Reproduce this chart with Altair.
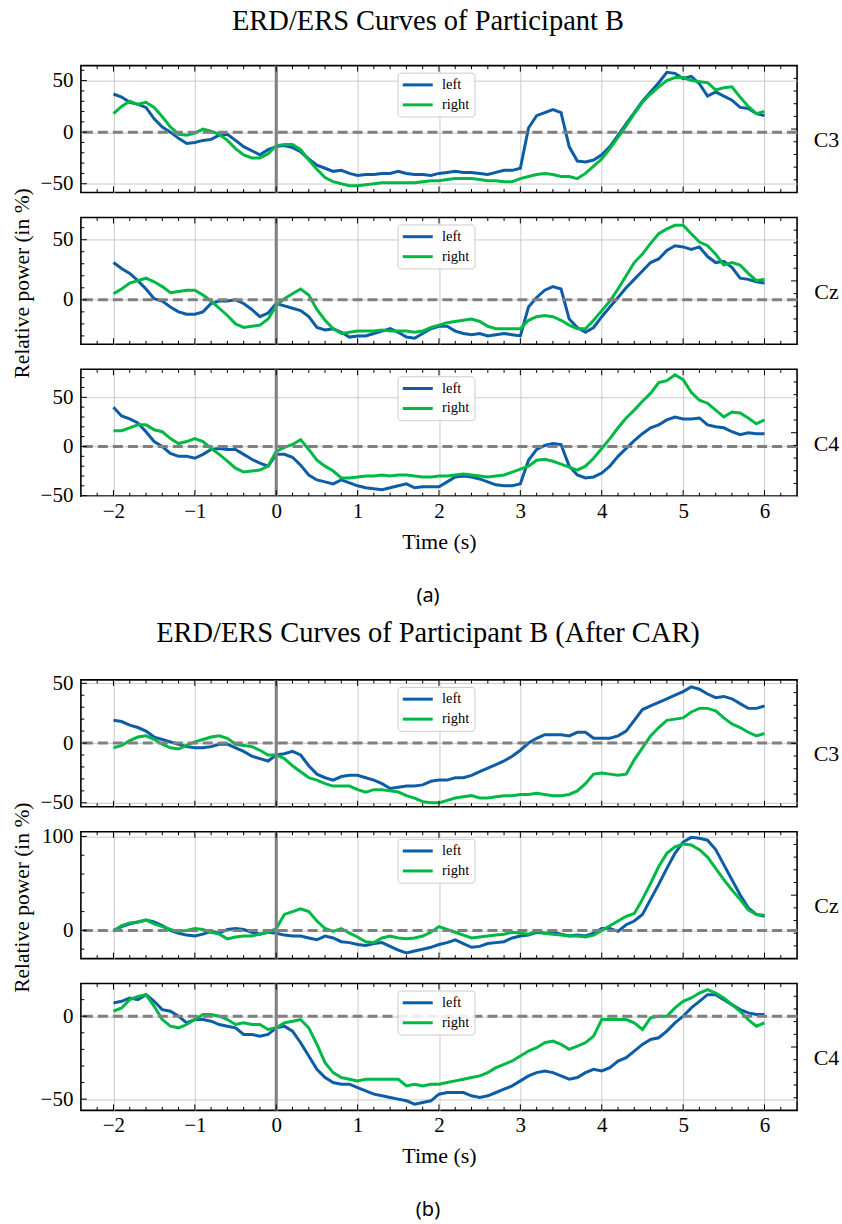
import altair as alt
import pandas as pd

SERIF = "Liberation Serif"
SANS = "Noto Sans"
BLUE = "#0C5DA5"
GREEN = "#00B945"
GRAY = "#808080"
W, H = 717, 127

# sample grid (seconds)
time_s = [round(-2 + 0.1 * i, 1) for i in range(81)]
x_major = [-2, -1, 0, 1, 2, 3, 4, 5, 6]
x_minor = [round(-2.2 + 0.2 * i, 1) for i in range(43)]
x_minor = [v for v in x_minor if abs(v - round(v)) > 1e-6]

# ---------------- (a) raw ----------------
a_C3_left = [37, 34, 29, 27, 24, 13, 5, 0, -6, -11,
             -10, -8, -7, -3, -2, -8, -14, -18, -22, -17,
             -14, -13, -15, -19, -26, -32, -35, -38, -37, -40,
             -42, -41, -41, -40, -40, -38, -40, -41, -41, -42,
             -40, -39, -38, -39, -39, -40, -41, -39, -37, -37,
             -35, 4, 16, 19, 22, 19, -14, -28, -29, -27,
             -22, -14, -3, 8, 19, 30, 39, 48, 58, 57,
             52, 54, 47, 35, 39, 35, 31, 24, 23, 18,
             16]
a_C3_right = [18, 25, 30, 27, 29, 24, 15, 5, -2, -3,
              -1, 3, 1, -2, -8, -16, -22, -25, -25, -21,
              -13, -12, -12, -17, -27, -36, -44, -48, -50, -52,
              -52, -51, -50, -49, -49, -49, -49, -49, -48, -47,
              -47, -46, -45, -45, -45, -46, -47, -47, -48, -48,
              -45, -43, -41, -40, -41, -43, -43, -45, -40, -33,
              -26, -16, -5, 6, 18, 29, 37, 44, 50, 53,
              53, 50, 49, 48, 41, 43, 44, 34, 25, 18,
              20]
a_Cz_left = [31, 26, 22, 16, 9, 1, -1, -6, -10, -12,
             -12, -10, -3, -1, -1, 0, -3, -8, -14, -11,
             -3, -5, -7, -9, -14, -23, -25, -24, -27, -31,
             -30, -30, -28, -26, -24, -27, -31, -32, -28, -24,
             -22, -22, -26, -28, -29, -28, -30, -29, -28, -29,
             -30, -6, 2, 8, 11, 9, -16, -23, -27, -23,
             -14, -6, 2, 10, 17, 24, 31, 34, 41, 45,
             44, 42, 44, 36, 31, 32, 27, 18, 17, 15,
             14]
a_Cz_right = [5, 9, 14, 16, 18, 15, 11, 6, 7, 8,
              8, 4, -1, -7, -13, -20, -23, -22, -21, -16,
              -5, 1, 5, 9, 4, -8, -17, -24, -28, -27,
              -26, -26, -26, -25, -26, -26, -26, -27, -26, -23,
              -21, -19, -18, -17, -16, -18, -22, -24, -24, -24,
              -24, -17, -14, -13, -14, -17, -21, -24, -24, -17,
              -9, -1, 9, 20, 31, 38, 47, 55, 59, 62,
              62, 55, 48, 45, 38, 29, 31, 29, 22, 16,
              17]
a_C4_left = [40, 31, 28, 24, 15, 5, 0, -7, -10, -10,
             -12, -8, -3, -2, -3, -3, -8, -13, -17, -20,
             -8, -8, -11, -19, -29, -34, -36, -38, -34, -37,
             -40, -42, -43, -44, -42, -40, -38, -42, -41, -41,
             -41, -36, -31, -30, -31, -33, -36, -39, -40, -40,
             -38, -14, -3, 1, 3, 2, -20, -29, -32, -31,
             -27, -20, -10, -2, 6, 13, 19, 22, 27, 30,
             28, 28, 29, 22, 20, 19, 15, 12, 14, 13,
             13]
a_C4_right = [16, 16, 19, 22, 22, 17, 15, 8, 3, 5,
              8, 5, -2, -8, -15, -22, -26, -25, -24, -20,
              -5, -1, 2, 7, -3, -14, -20, -25, -32, -32,
              -31, -30, -30, -29, -30, -29, -29, -30, -31, -31,
              -30, -30, -29, -28, -29, -30, -31, -30, -29, -26,
              -23, -20, -14, -13, -15, -18, -21, -24, -20, -12,
              -2, 8, 19, 29, 37, 46, 54, 65, 67, 73,
              68, 55, 47, 44, 37, 30, 35, 34, 29, 23,
              27]

# ---------------- (b) after CAR ----------------
b_C3_left = [19, 18, 15, 13, 10, 5, 3, 1, -1, -3,
             -4, -4, -3, -1, -1, -4, -7, -11, -13, -15,
             -10, -9, -7, -10, -19, -26, -29, -31, -28, -27,
             -27, -29, -31, -34, -38, -37, -36, -36, -35, -32,
             -31, -31, -29, -29, -27, -24, -21, -18, -15, -11,
             -6, 0, 4, 7, 7, 7, 6, 9, 9, 4,
             4, 4, 6, 10, 19, 28, 31, 34, 37, 40,
             43, 47, 45, 41, 38, 39, 37, 33, 29, 29,
             31]
b_C3_right = [-4, -2, 2, 5, 6, 3, -1, -4, -5, -2,
              1, 3, 5, 6, 4, -1, -2, -3, -6, -10,
              -10, -13, -19, -24, -29, -31, -34, -36, -36, -36,
              -39, -41, -39, -39, -40, -41, -44, -46, -49, -50,
              -50, -48, -46, -45, -44, -46, -46, -45, -44, -44,
              -43, -43, -42, -43, -44, -44, -43, -40, -34, -26,
              -25, -26, -27, -26, -14, -4, 6, 13, 19, 20,
              21, 26, 29, 29, 27, 21, 16, 13, 9, 6,
              8]
b_Cz_left = [0, 4, 7, 9, 11, 9, 5, 0, -3, -5,
             -6, -4, -1, -3, 1, 2, 1, -2, -4, -2,
             -3, -5, -6, -6, -8, -10, -6, -8, -12, -13,
             -15, -16, -14, -13, -17, -21, -24, -22, -20, -18,
             -15, -13, -10, -14, -18, -17, -14, -13, -12, -8,
             -6, -5, -2, -3, -2, -4, -6, -5, -6, -3,
             2, 2, -1, 6, 10, 17, 33, 49, 66, 82,
             94, 99, 98, 96, 86, 70, 54, 38, 24, 17,
             15]
b_Cz_right = [-1, 5, 8, 9, 11, 7, 4, 1, -1, 0,
              2, 1, -2, -4, -9, -7, -6, -6, -4, -2,
              2, 17, 20, 23, 20, 10, 2, -1, 2, -3,
              -7, -12, -13, -8, -6, -8, -9, -8, -6, -2,
              4, 1, -2, -5, -8, -7, -6, -5, -4, -2,
              -3, -4, -1, -3, -4, -5, -6, -6, -7, -5,
              0, 5, 10, 15, 18, 33, 50, 68, 82, 89,
              92, 91, 86, 78, 66, 54, 43, 33, 22, 17,
              16]
b_C4_left = [8, 9, 11, 10, 13, 9, 4, 3, 0, -4,
             -2, -2, -3, -5, -6, -7, -11, -11, -12, -11,
             -7, -6, -9, -16, -24, -32, -37, -40, -41, -41,
             -43, -45, -47, -48, -49, -50, -51, -53, -52, -51,
             -47, -46, -46, -46, -48, -49, -48, -46, -44, -42,
             -39, -36, -34, -33, -34, -36, -38, -37, -34, -32,
             -33, -31, -27, -25, -21, -17, -14, -13, -9, -4,
             0, 5, 9, 13, 13, 10, 7, 4, 2, 1,
             1]
b_C4_right = [3, 5, 10, 12, 13, 6, -2, -6, -7, -5,
              -2, 1, 1, 0, -2, -5, -4, -5, -5, -8,
              -7, -4, -3, -2, -7, -17, -28, -34, -37, -38,
              -39, -38, -38, -38, -38, -38, -42, -41, -42, -41,
              -41, -40, -39, -38, -37, -36, -34, -31, -29, -27,
              -24, -21, -19, -16, -15, -17, -20, -18, -16, -12,
              -2, -2, -2, -2, -4, -8, -1, 0, 0, 5,
              9, 11, 14, 16, 14, 11, 7, 3, -2, -6,
              -4]

for arr in [a_C3_left, a_C3_right, a_Cz_left, a_Cz_right, a_C4_left, a_C4_right,
            b_C3_left, b_C3_right, b_Cz_left, b_Cz_right, b_C4_left, b_C4_right]:
    assert len(arr) == 81, len(arr)

twin_major = [0.5]
twin_minor = [0.1, 0.2, 0.3, 0.4, 0.6, 0.7, 0.8, 0.9]

MAJ, MIN = 6, 3.5


def build_panel(left, right, dom, y_major, y_step, ch, bottom=False, ytitle=False,
                title=None, title_offset=6, caption=None):
    df = pd.DataFrame({"t": time_s * 2, "v": left + right,
                       "series": ["left"] * 81 + ["right"] * 81})
    lo, hi = dom
    y_minor = [v for v in range(-200, 201, y_step)
               if lo < v < hi and v not in y_major]
    xs = alt.Scale(domain=[-2.4, 6.4], nice=False, zero=False)
    ys = alt.Scale(domain=dom, nice=False, zero=False)
    xa = dict(values=x_major, grid=True, ticks=False, domain=False,
              labels=bottom, format="d")
    if bottom:
        xa.update(title="Time (s)", labelFontSize=21, labelPadding=4,
                  titleFontSize=22, titlePadding=10)
    else:
        xa.update(title=None)
    ya = dict(values=y_major, grid=True, ticks=False, domain=False, format="d",
              labelFontSize=21, labelPadding=8)
    if ytitle:
        ya.update(title="Relative power (in %)", titleFontSize=21.5, titleAngle=270,
                  titleX=-58, titleY=H / 2 + 2, titleAlign="center",
                  titleBaseline="middle")
    else:
        ya.update(title=None)
    X = alt.X("t:Q", scale=xs, axis=alt.Axis(**xa))
    Y = alt.Y("v:Q", scale=ys, axis=alt.Axis(**ya))

    legend = alt.Legend(title=None, orient="none", legendX=317, legendY=7,
                        direction="vertical", symbolType="M-3,0L3,0", symbolSize=100,
                        symbolStrokeWidth=3, symbolOffset=8, labelOffset=17,
                        labelFont=SERIF, labelFontSize=14.5, padding=5, rowPadding=5,
                        fillColor="rgba(255,255,255,0.85)", strokeColor="#cccccc",
                        cornerRadius=3, labelColor="black")
    lines = alt.Chart(df).mark_line(strokeWidth=3).encode(
        x=X, y=Y,
        color=alt.Color("series:N",
                        scale=alt.Scale(domain=["left", "right"], range=[BLUE, GREEN]),
                        legend=legend))
    zero = alt.Chart(pd.DataFrame({"v": [0]})).mark_rule(
        color=GRAY, strokeWidth=3, strokeDash=[10, 5]).encode(y=Y)
    onset = alt.Chart(pd.DataFrame({"t": [0]})).mark_rule(
        color=GRAY, strokeWidth=3).encode(x=X)

    def yticks(vals, ln):
        return alt.Chart(pd.DataFrame({"v": vals})).mark_rule(
            color="black", strokeWidth=1).encode(
            y=Y, x=alt.value(0), x2=alt.value(ln))

    def xticks(vals, ln, top):
        y0, y1 = (0, ln) if top else (H, H - ln)
        return alt.Chart(pd.DataFrame({"t": vals})).mark_rule(
            color="black", strokeWidth=1).encode(
            x=X, y=alt.value(y0), y2=alt.value(y1))

    inner = alt.layer(lines, zero, onset,
                      yticks(y_major, MAJ), yticks(y_minor, MIN),
                      xticks(x_major, MAJ, True), xticks(x_minor, MIN, True),
                      xticks(x_major, MAJ, False), xticks(x_minor, MIN, False))

    TY = alt.Y("f:Q", scale=alt.Scale(domain=[0, 1], nice=False, zero=False),
               axis=alt.Axis(orient="right", title=ch, labels=False, ticks=False,
                             domain=False, grid=False, titleAngle=0, titleX=29,
                             titleY=74, titleAlign="center", titleBaseline="middle",
                             titleFontSize=22))

    def rticks(vals, ln):
        return alt.Chart(pd.DataFrame({"f": vals})).mark_rule(
            color="black", strokeWidth=1).encode(
            y=TY, x=alt.value(W), x2=alt.value(W - ln))

    twin = alt.layer(rticks(twin_major, MAJ), rticks(twin_minor, MIN))
    props = dict(width=W, height=H)
    if title is not None:
        props["title"] = alt.TitleParams(text=title, orient="top", anchor="middle",
                                         font=SERIF, fontSize=28.5, fontWeight="normal",
                                         color="black", offset=title_offset,
                                         baseline="alphabetic", dx=-11)
    if caption is not None:
        props["title"] = alt.TitleParams(text=caption, orient="bottom", anchor="middle",
                                         font=SANS, fontSize=20, fontWeight="normal",
                                         color="black", offset=34, dx=-11)
    return alt.layer(inner, twin).resolve_scale(y="independent").properties(**props)


a1 = build_panel(a_C3_left, a_C3_right, [-58.5, 64.5], [-50, 0, 50], 10, "C3",
                 title="ERD/ERS Curves of Participant B", title_offset=6)
a2 = build_panel(a_Cz_left, a_Cz_right, [-37, 68.5], [0, 50], 10, "Cz", ytitle=True)
a3 = build_panel(a_C4_left, a_C4_right, [-50.5, 78.5], [-50, 0, 50], 10, "C4",
                 bottom=True, caption="(a)")
spacer = alt.Chart(pd.DataFrame({"t": [0]})).mark_point(opacity=0).encode(
    x=alt.value(0), y=alt.value(0)).properties(
    width=W, height=134, view=alt.ViewBackground(stroke=None))
b1 = build_panel(b_C3_left, b_C3_right, [-53.3, 52.8], [-50, 0, 50], 10, "C3",
                 title="ERD/ERS Curves of Participant B (After CAR)", title_offset=2)
b2 = build_panel(b_Cz_left, b_Cz_right, [-30, 105], [0, 100], 20, "Cz", ytitle=True)
b3 = build_panel(b_C4_left, b_C4_right, [-56.8, 19.7], [-50, 0], 10, "C4",
                 bottom=True, caption="(b)")

chart = alt.vconcat(a1, a2, a3, spacer, b1, b2, b3, spacing=25, bounds="flush").resolve_scale(
    color="independent").resolve_legend(color="independent").properties(
    padding={"left": 11, "top": 5, "right": 2, "bottom": 5}).configure_view(
    stroke="black", strokeWidth=1.6).configure_axis(
    labelFont=SERIF, titleFont=SERIF, labelColor="black", titleColor="black",
    gridColor="#c4c4c4", gridWidth=0.9, titleFontWeight="normal")

chart.save("out.html", embed_options={"renderer": "svg", "actions": False})
